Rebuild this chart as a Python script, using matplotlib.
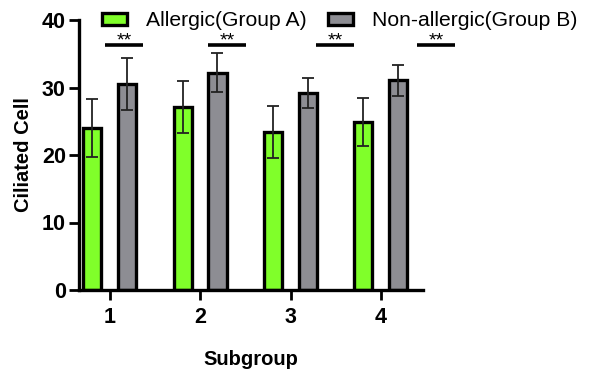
import numpy as np
import matplotlib.pyplot as plt
from matplotlib.patches import Patch

# Data
subgroups = ["1", "2", "3", "4"]
allergic_mean = [24.0, 27.1, 23.4, 24.9]
allergic_sd = [4.3, 3.9, 3.9, 3.6]
nonallergic_mean = [30.5, 32.2, 29.2, 31.1]
nonallergic_sd = [3.8, 2.9, 2.2, 2.3]
sig_labels = ["**", "**", "**", "**"]

green = "#80ff2a"
gray = "#8d8d93"

plt.rcParams['font.family'] = ['Liberation Sans', 'DejaVu Sans']

fig = plt.figure(figsize=(5.97, 3.70), dpi=100)
ax = fig.add_axes([79 / 597, 1 - 290 / 370, 344 / 597, 270 / 370])

x = np.arange(1, len(subgroups) + 1)
w = 0.2
err_kw = dict(ecolor="#222222", elinewidth=1.3, capsize=4.5, capthick=1.3)

ax.bar(x - 0.195, allergic_mean, w, yerr=allergic_sd, color=green,
       edgecolor="black", linewidth=2.4, error_kw=err_kw, zorder=2)
ax.bar(x + 0.19, nonallergic_mean, w, yerr=nonallergic_sd, color=gray,
       edgecolor="black", linewidth=2.4, error_kw=err_kw, zorder=2)

# significance markers (slightly shifted to the right in the original)
sig_start = [0.945, 2.09, 3.28, 4.40]
for i, lab in enumerate(sig_labels):
    x0 = sig_start[i]
    ax.plot([x0, x0 + 0.42], [36.3, 36.3], color="black", lw=2.6,
            clip_on=False, solid_capstyle="butt")
    ax.text(x0 + 0.21, 35.7, lab, ha="center", va="bottom", fontsize=14,
            clip_on=False)

ax.set_xlim(0.657, 4.465)
ax.set_ylim(0, 40)
ax.set_xticks(x)
ax.set_xticklabels(subgroups)
ax.set_yticks([0, 10, 20, 30, 40])

for s in ["top", "right"]:
    ax.spines[s].set_visible(False)
for s in ["left", "bottom"]:
    ax.spines[s].set_linewidth(2.4)
ax.tick_params(width=2, length=7, labelsize=15.5, pad=2.5)
ax.tick_params(axis="x", pad=5)
for lab in ax.get_xticklabels() + ax.get_yticklabels():
    lab.set_fontweight("bold")

ax.set_xlabel("Subgroup", fontsize=14.5, fontweight="bold", labelpad=16)
ax.set_ylabel("Ciliated Cell", fontsize=14.5, fontweight="bold", labelpad=6)

handles = [Patch(facecolor=green, edgecolor="black", linewidth=2.4),
           Patch(facecolor=gray, edgecolor="black", linewidth=2.4)]
fig.legend(handles, ["Allergic(Group A)", "Non-allergic(Group B)"],
           loc="center left", bbox_to_anchor=(91 / 597, 1 - 21 / 370),
           ncol=2, frameon=False, fontsize=15.2, borderpad=0,
           handlelength=1.2, handleheight=0.5, handletextpad=0.9,
           columnspacing=1.0)

fig.savefig("out.png", dpi=100)
